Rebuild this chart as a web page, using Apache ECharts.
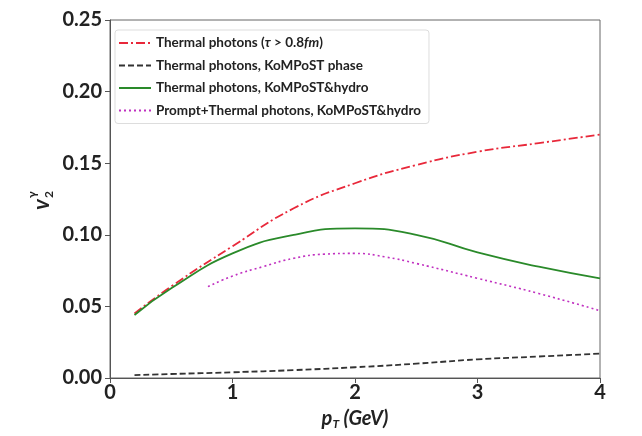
<!DOCTYPE html>
<html><head><meta charset="utf-8">
<script src="https://cdn.jsdelivr.net/npm/echarts@6/dist/echarts.min.js"></script>
<style>html,body{margin:0;padding:0;background:#fff}#c{width:642px;height:436px}</style>
</head><body><div id="c"></div>
<script>
var pT = [0.2, 0.5, 1.0, 1.5, 2.0, 2.5, 3.0, 3.5, 4.0];
var thermalLate = [0.045, 0.064, 0.092, 0.1185, 0.136, 0.1487, 0.158, 0.164, 0.170];
var kompostPhase = [0.002, 0.0028, 0.004, 0.0055, 0.0075, 0.010, 0.013, 0.015, 0.017];
var kompostHydro = [0.044, 0.0626, 0.087, 0.0999, 0.1045, 0.100, 0.0877, 0.0777, 0.0696];
var pTprompt = [0.8, 1.0, 1.25, 1.5, 1.75, 2.0, 2.25, 2.5, 3.0, 3.5, 4.0];
var promptThermal = [0.0638, 0.0712, 0.0778, 0.0836, 0.0865, 0.087, 0.0845, 0.080, 0.0696, 0.059, 0.047];
var names = ['Thermal photons (\u03c4 > 0.8fm)', 'Thermal photons, KoMPoST phase', 'Thermal photons, KoMPoST&hydro', 'Prompt+Thermal photons, KoMPoST&hydro'];
var xTicks = [0, 1, 2, 3, 4];
var yTicks = [0.00, 0.05, 0.10, 0.15, 0.20, 0.25];

function pairs(xs, ys) { return xs.map(function (x, i) { return [x, ys[i]]; }); }
var font = 'Lato';
var chart = echarts.init(document.getElementById('c'));
chart.setOption({
  animation: false,
  backgroundColor: '#fff',
  grid: { left: 110, right: 42, top: 20, bottom: 58, show: true, borderColor: '#666', borderWidth: 1 },
  legend: {
    left: 115, top: 30, orient: 'vertical', itemWidth: 32, itemHeight: 10, itemGap: 8.5,
    padding: [6, 8, 6, 3], borderColor: '#ddd', borderWidth: 1, borderRadius: 3,
    itemStyle: { opacity: 0, color: 'rgba(0,0,0,0)', borderWidth: 0 },
    textStyle: { fontFamily: font, fontSize: 13.5, fontWeight: 'bold', color: '#222',
      rich: { it: { fontFamily: font, fontSize: 13.5, fontWeight: 'bold', fontStyle: 'italic', color: '#222' } } },
    formatter: function (n) {
      if (n === names[0]) return 'Thermal photons ({it|\u03c4} > 0.8{it|fm})';
      return n;
    },
    data: names
  },
  xAxis: {
    type: 'value', min: 0, max: 4, interval: 1,
    name: '{i|p}{s|T}{i| (GeV)}', nameLocation: 'middle', nameGap: 30,
    nameTextStyle: { rich: {
      i: { fontFamily: font, fontSize: 20, fontWeight: 'bold', fontStyle: 'italic', color: '#222' },
      s: { fontFamily: font, fontSize: 12, fontWeight: 'bold', fontStyle: 'italic', color: '#222', verticalAlign: 'bottom', padding: [10, 0, 0, 0] }
    } },
    axisLine: { lineStyle: { color: '#555' } },
    axisTick: { length: 5, lineStyle: { color: '#555' } },
    splitLine: { show: false },
    axisLabel: { fontFamily: font, fontSize: 20, fontWeight: 'bold', color: '#222', margin: 5,
      formatter: function (v) { return xTicks.indexOf(v) >= 0 ? String(v) : ''; } }
  },
  yAxis: {
    type: 'value', min: 0, max: 0.25, interval: 0.05,
    axisLine: { show: true, lineStyle: { color: '#555' } },
    axisTick: { show: true, length: 5, lineStyle: { color: '#555' } },
    splitLine: { show: false },
    axisLabel: { fontFamily: font, fontSize: 20, fontWeight: 'bold', color: '#222', margin: 8,
      formatter: function (v) { return v.toFixed(2); } }
  },
  graphic: [{
    type: 'group', x: 42, y: 200, rotation: Math.PI / 2,
    children: [
      { type: 'text', x: -10, y: -11, style: { text: 'v', font: 'italic bold 22px Lato', fill: '#222' } },
      { type: 'text', x: 2, y: 1, style: { text: '2', font: 'bold 12px Lato', fill: '#222' } },
      { type: 'text', x: 2, y: -16, style: { text: '\u03b3', font: 'bold 12px Lato', fill: '#222' } }
    ]
  }],
  series: [
    { name: names[0], type: 'line', smooth: true, symbol: 'none', data: pairs(pT, thermalLate),
      lineStyle: { color: '#e8283a', width: 1.8, type: [9, 3, 2, 3] }, itemStyle: { color: '#e8283a' } },
    { name: names[1], type: 'line', smooth: true, symbol: 'none', data: pairs(pT, kompostPhase),
      lineStyle: { color: '#333', width: 1.8, type: [6, 3] }, itemStyle: { color: '#333' } },
    { name: names[2], type: 'line', smooth: true, symbol: 'none', data: pairs(pT, kompostHydro),
      lineStyle: { color: '#2a8a2a', width: 1.8, type: 'solid' }, itemStyle: { color: '#2a8a2a' } },
    { name: names[3], type: 'line', smooth: true, symbol: 'none', data: pairs(pTprompt, promptThermal),
      lineStyle: { color: '#c030c0', width: 1.6, type: [2, 3] }, itemStyle: { color: '#c030c0' } }
  ]
});
</script></body></html>
